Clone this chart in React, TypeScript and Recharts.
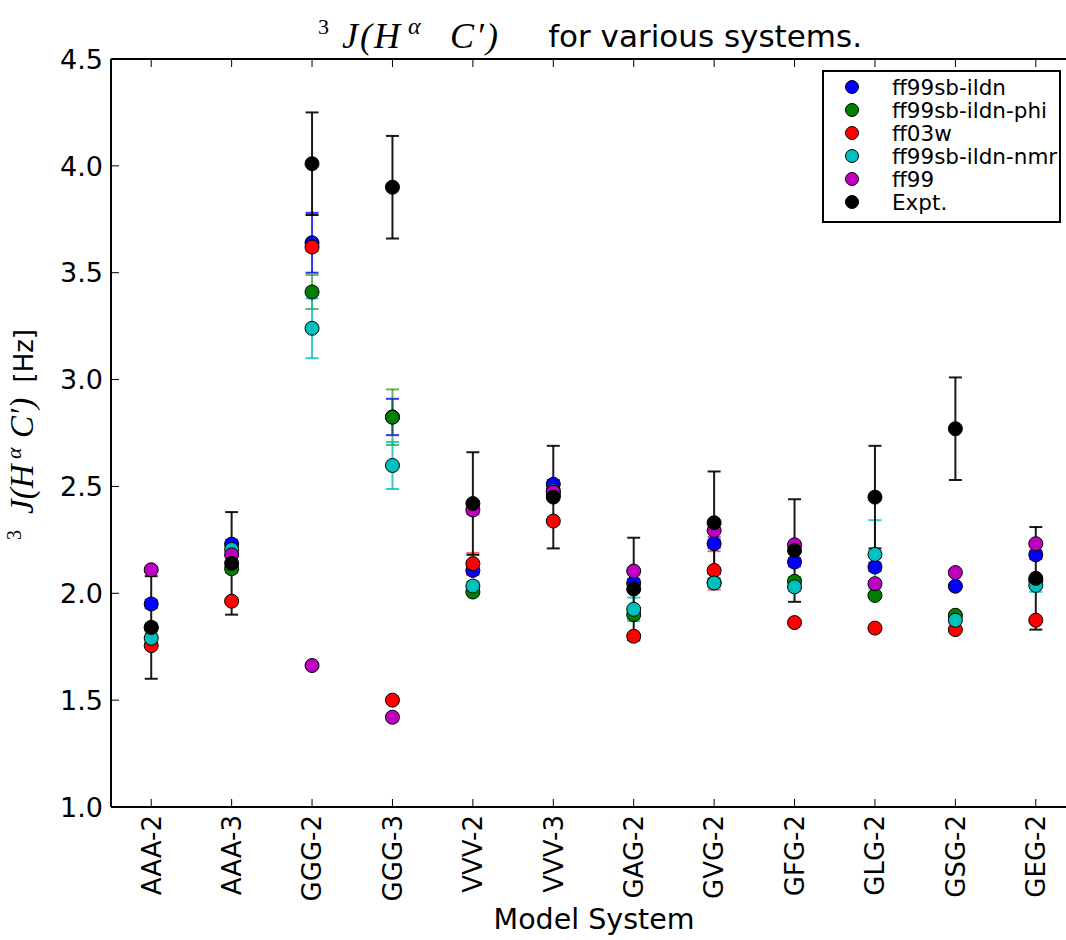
import React from 'react';
import { ComposedChart, Line, XAxis, YAxis, ErrorBar, Legend, ReferenceLine } from 'recharts';

const categories = ['AAA-2', 'AAA-3', 'GGG-2', 'GGG-3', 'VVV-2', 'VVV-3', 'GAG-2', 'GVG-2', 'GFG-2', 'GLG-2', 'GSG-2', 'GEG-2'];

const ff99sbIldn = [1.95, 2.23, 3.64, 2.825, 2.107, 2.51, 2.048, 2.232, 2.146, 2.123, 2.033, 2.18];
const ff99sbIldnErr = [0.02, 0.02, 0.14, 0.085, 0.02, 0.02, 0.02, 0.02, 0.02, 0.02, 0.01, 0.02];
const ff99sbIldnPhi = [1.84, 2.115, 3.41, 2.824, 2.006, 2.46, 1.9, 2.05, 2.056, 1.99, 1.897, 2.06];
const ff99sbIldnPhiErr = [0.02, 0.02, 0.08, 0.13, 0.01, 0.02, 0.02, 0.02, 0.02, 0.01, 0.01, 0.02];
const ff03w = [1.755, 1.963, 3.62, 1.5, 2.139, 2.338, 1.799, 2.107, 1.863, 1.837, 1.83, 1.874];
const ff03wErr = [0.01, 0.01, 0.02, 0.01, 0.05, 0.01, 0.01, 0.09, 0.01, 0.01, 0.01, 0.01];
const ff99sbIldnNmr = [1.79, 2.205, 3.24, 2.598, 2.034, 2.48, 1.925, 2.048, 2.03, 2.182, 1.874, 2.037];
const ff99sbIldnNmrErr = [0.02, 0.02, 0.14, 0.11, 0.02, 0.02, 0.055, 0.02, 0.02, 0.16, 0.01, 0.03];
const ff99 = [2.11, 2.18, 1.662, 1.42, 2.39, 2.473, 2.104, 2.294, 2.227, 2.045, 2.097, 2.232];
const ff99Err = [0.01, 0.01, 0.01, 0.01, 0.02, 0.01, 0.01, 0.03, 0.01, 0.01, 0.01, 0.01];
const expt = [1.84, 2.14, 4.01, 3.9, 2.42, 2.45, 2.02, 2.33, 2.2, 2.45, 2.77, 2.07];
const exptErr = [0.24, 0.24, 0.24, 0.24, 0.24, 0.24, 0.24, 0.24, 0.24, 0.24, 0.24, 0.24];

const yTicks = [1.0, 1.5, 2.0, 2.5, 3.0, 3.5, 4.0, 4.5];

const series = [
  { key: 's0', name: 'ff99sb-ildn', color: '#0000ff', values: ff99sbIldn, errs: ff99sbIldnErr, errOpacity: 0.8 },
  { key: 's1', name: 'ff99sb-ildn-phi', color: '#008000', values: ff99sbIldnPhi, errs: ff99sbIldnPhiErr, errOpacity: 0.6 },
  { key: 's2', name: 'ff03w', color: '#ff0000', values: ff03w, errs: ff03wErr, errOpacity: 0.6 },
  { key: 's3', name: 'ff99sb-ildn-nmr', color: '#00bfbf', values: ff99sbIldnNmr, errs: ff99sbIldnNmrErr, errOpacity: 0.8 },
  { key: 's4', name: 'ff99', color: '#bf00bf', values: ff99, errs: ff99Err, errOpacity: 0.8 },
  { key: 's5', name: 'Expt.', color: '#000000', values: expt, errs: exptErr, errOpacity: 0.9 },
];

const data = categories.map((name, i) => {
  const row: any = { x: i, name };
  series.forEach((s) => {
    row[s.key] = s.values[i];
    row[s.key + 'e'] = s.errs[i];
  });
  return row;
});

const CHART_W = 1080;
const CHART_H = 940;
const PLOT_LEFT = 111;
const PLOT_TOP = 59;
const X_AXIS_H = 133;
const PLOT_BOTTOM = CHART_H - X_AXIS_H;
const SANS = "'DejaVu Sans', sans-serif";
const SERIF = "'Liberation Serif', 'DejaVu Serif', serif";

const XTick = (props: any) => {
  const { x, payload } = props;
  const label = categories[payload.value];
  const ty = PLOT_BOTTOM + 8;
  return (
    <g>
      <line x1={x} y1={PLOT_BOTTOM} x2={x} y2={PLOT_BOTTOM - 8} stroke="#000" strokeWidth={1} />
      <line x1={x} y1={PLOT_TOP} x2={x} y2={PLOT_TOP + 8} stroke="#000" strokeWidth={1} />
      <text
        x={x}
        y={ty}
        transform={`rotate(-90, ${x}, ${ty})`}
        textAnchor="end"
        dy="0.36em"
        fontSize={26}
        fontFamily={SANS}
        fill="#000"
      >
        {label}
      </text>
    </g>
  );
};

const YTick = (props: any) => {
  const { y, payload } = props;
  return (
    <g>
      <line x1={PLOT_LEFT} y1={y} x2={PLOT_LEFT + 8} y2={y} stroke="#000" strokeWidth={1} />
      <text x={PLOT_LEFT - 8} y={y} dy="0.36em" textAnchor="end" fontSize={27} fontFamily={SANS} fill="#000">
        {Number(payload.value).toFixed(1)}
      </text>
    </g>
  );
};

const LegendBox = () => (
  <div
    style={{
      width: 239,
      height: 153,
      boxSizing: 'border-box',
      border: '2px solid #000',
      background: '#fff',
      position: 'relative',
    }}
  >
    <svg width={235} height={149} style={{ position: 'absolute', left: 0, top: 0 }}>
      {series.map((s, i) => (
        <g key={s.key}>
          <circle cx={28} cy={15 + i * 23} r={6.5} fill={s.color} stroke="#000" strokeWidth={1} />
          <text x={68} y={15 + i * 23} dy="0.36em" fontSize={21.5} fontFamily={SANS} fill="#000">
            {s.name}
          </text>
        </g>
      ))}
    </svg>
  </div>
);

export default function App() {
  return (
    <div style={{ position: 'absolute', left: 0, top: 0, width: 1066, height: 940, overflow: 'hidden', background: '#fff' }}>
      <ComposedChart
        width={CHART_W}
        height={CHART_H}
        data={data}
        margin={{ top: PLOT_TOP, right: 4, left: 0, bottom: 0 }}
      >
        <XAxis
          type="number"
          dataKey="x"
          domain={[-0.5, 11.5]}
          ticks={categories.map((_, i) => i)}
          interval={0}
          allowDataOverflow
          tick={<XTick />}
          tickLine={false}
          axisLine={{ stroke: '#000', strokeWidth: 2 }}
          height={X_AXIS_H}
        />
        <YAxis
          type="number"
          domain={[1, 4.5]}
          ticks={yTicks}
          interval={0}
          allowDataOverflow
          tick={<YTick />}
          tickLine={false}
          axisLine={{ stroke: '#000', strokeWidth: 2 }}
          width={PLOT_LEFT}
        />
        <ReferenceLine y={4.5} stroke="#000" strokeWidth={2} />
        {series.map((s) => (
          <Line
            key={s.key + '-err'}
            dataKey={s.key}
            stroke="none"
            dot={false}
            activeDot={false}
            legendType="none"
            isAnimationActive={false}
          >
            <ErrorBar
              dataKey={s.key + 'e'}
              width={6.5}
              strokeWidth={2}
              stroke={s.color}
              strokeOpacity={s.errOpacity}
              direction="y"
              isAnimationActive={false}
            />
          </Line>
        ))}
        {series.map((s) => (
          <Line
            key={s.key}
            name={s.name}
            dataKey={s.key}
            stroke="none"
            dot={{ r: 7, fill: s.color, stroke: '#000', strokeWidth: 1 }}
            activeDot={false}
            isAnimationActive={false}
          />
        ))}
        <Legend
          layout="vertical"
          align="center"
          verticalAlign="middle"
          wrapperStyle={{ left: 822, top: 70, width: 239, height: 153 }}
          content={() => <LegendBox />}
        />
      </ComposedChart>
      <svg width={1066} height={940} style={{ position: 'absolute', left: 0, top: 0, pointerEvents: 'none' }}>
        <g fontFamily={SERIF} fill="#000">
          <text x={318} y={34} fontSize={22}>3</text>
          <text x={342} y={48} fontSize={36} fontStyle="italic" letterSpacing={2}>J(H</text>
          <text x={408} y={34} fontSize={24} fontStyle="italic">α</text>
          <text x={450} y={48} fontSize={36} fontStyle="italic" letterSpacing={2}>{'C\u2032)'}</text>
        </g>
        <text x={862} y={47} textAnchor="end" fontFamily={SANS} fontSize={31} fill="#000">
          for various systems.
        </text>
        <g transform="rotate(-90)" fontFamily={SERIF} fill="#000">
          <text x={-540} y={21} fontSize={20}>3</text>
          <text x={-514} y={33} fontSize={33} fontStyle="italic">J(H</text>
          <text x={-459} y={21} fontSize={22} fontStyle="italic">α</text>
          <text x={-438} y={33} fontSize={33} fontStyle="italic">{'C\u2032)'}</text>
          <text x={-329} y={33} textAnchor="end" fontFamily={SANS} fontSize={26}>
            [Hz]
          </text>
        </g>
        <text x={594} y={929} textAnchor="middle" fontFamily={SANS} fontSize={28.5} fill="#000">
          Model System
        </text>
      </svg>
    </div>
  );
}
